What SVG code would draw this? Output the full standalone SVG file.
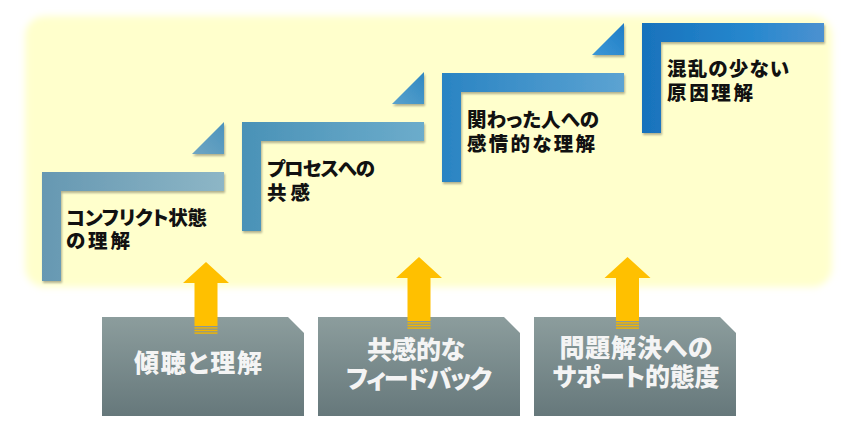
<svg xmlns="http://www.w3.org/2000/svg" width="847" height="433" viewBox="0 0 847 433">
<defs>
<filter id="soft" x="-5%" y="-10%" width="110%" height="120%"><feGaussianBlur stdDeviation="3.5"/></filter>
<filter id="sh" x="-10%" y="-10%" width="130%" height="140%"><feDropShadow dx="1" dy="2" stdDeviation="1.2" flood-color="#000" flood-opacity="0.3"/></filter>
<linearGradient id="g1" x1="0" y1="0" x2="1" y2="0"><stop offset="0" stop-color="#6698B2"/><stop offset="1" stop-color="#8DB6C6"/></linearGradient>
<linearGradient id="g2" x1="0" y1="0" x2="1" y2="0"><stop offset="0" stop-color="#4A92B7"/><stop offset="1" stop-color="#6CACCB"/></linearGradient>
<linearGradient id="g3" x1="0" y1="0" x2="1" y2="0"><stop offset="0" stop-color="#2A84C3"/><stop offset="1" stop-color="#5CA3D2"/></linearGradient>
<linearGradient id="g4" x1="0" y1="0" x2="1" y2="0"><stop offset="0" stop-color="#1872BC"/><stop offset="0.6" stop-color="#2788CE"/><stop offset="1" stop-color="#4C91D0"/></linearGradient>
<linearGradient id="t1" x1="0" y1="1" x2="1" y2="0"><stop offset="0" stop-color="#6FA6C2"/><stop offset="1" stop-color="#4B93BD"/></linearGradient>
<linearGradient id="t2" x1="0" y1="1" x2="1" y2="0"><stop offset="0" stop-color="#5AA2CC"/><stop offset="1" stop-color="#2F88C2"/></linearGradient>
<linearGradient id="t3" x1="0" y1="1" x2="1" y2="0"><stop offset="0" stop-color="#3C98D6"/><stop offset="1" stop-color="#1F7DC6"/></linearGradient>
<linearGradient id="bx" x1="0" y1="0" x2="0" y2="1"><stop offset="0" stop-color="#8C9D9D"/><stop offset="1" stop-color="#66787B"/></linearGradient>
<path id="arrow" d="M0,0 L23,21 L11.5,21 L11.5,64 L-11.5,64 L-11.5,21 L-23,21 Z"/>
</defs>
<style>
.st{font-family:"Noto Sans CJK JP","Noto Sans CJK SC",sans-serif;font-weight:900;font-size:19.5px;fill:#111;font-feature-settings:"palt";}
.bt{font-family:"Noto Sans CJK JP","Noto Sans CJK SC",sans-serif;font-weight:900;font-size:25px;fill:#F4F4F4;text-anchor:middle;font-feature-settings:"palt";}
.arr{fill:#FFC000;}
.str{fill:#F2B500;}
</style>
<rect x="0" y="0" width="847" height="433" fill="#FFFFFF"/>
<g id="panel">
<rect x="25" y="16" width="807" height="271" rx="20" fill="#FFFFCC" filter="url(#soft)"/>
</g>

<g id="step1">
<path d="M42,172 H224 V191 H61 V281 H42 Z" fill="url(#g1)" filter="url(#sh)"/>
<path d="M192,154 H224 V122 Z" fill="url(#t1)" filter="url(#sh)"/>
<text class="st" x="66" y="225" textLength="141">コンフリクト状態</text>
<text class="st" x="66" y="248" textLength="64">の理解</text>
</g>
<g id="step2">
<path d="M242,122 H424 V141 H261 V231 H242 Z" fill="url(#g2)" filter="url(#sh)"/>
<path d="M392,104 H424 V72 Z" fill="url(#t2)" filter="url(#sh)"/>
<text class="st" x="267" y="176" textLength="108">プロセスへの</text>
<text class="st" x="267" y="200" textLength="43">共感</text>
</g>
<g id="step3">
<path d="M442,73 H624 V92 H461 V182 H442 Z" fill="url(#g3)" filter="url(#sh)"/>
<path d="M592,55 H624 V23 Z" fill="url(#t3)" filter="url(#sh)"/>
<text class="st" x="467" y="127" textLength="132">関わった人への</text>
<text class="st" x="467" y="151" textLength="128">感情的な理解</text>
</g>
<g id="step4">
<path d="M642,23 H824 V42 H661 V133 H642 Z" fill="url(#g4)" filter="url(#sh)"/>
<text class="st" x="667" y="76" textLength="122">混乱の少ない</text>
<text class="st" x="667" y="100" textLength="86">原因理解</text>
</g>

<g id="box1">
<path d="M102,317 H288 L304,333 V416 H102 Z" fill="url(#bx)"/>
<text class="bt" x="198" y="372" textLength="128">傾聴と理解</text>
</g>
<g id="box2">
<path d="M318,317 H504 L520,333 V416 H318 Z" fill="url(#bx)"/>
<text class="bt" x="416" y="359" textLength="98">共感的な</text>
<text class="bt" x="419" y="388" textLength="146">フィードバック</text>
</g>
<g id="box3">
<path d="M534,317 H720 L736,333 V416 H534 Z" fill="url(#bx)"/>
<text class="bt" x="636" y="357" textLength="153">問題解決への</text>
<text class="bt" x="636" y="386" textLength="167">サポート的態度</text>
</g>

<g id="connectors">
<g transform="translate(206,262)">
<use href="#arrow" class="arr"/>
<rect x="-11.5" y="65.2" width="23" height="1.4" class="str"/>
<rect x="-11.5" y="67.8" width="23" height="1.4" class="str"/>
<rect x="-11.5" y="70.4" width="23" height="1.4" class="str"/>
</g>
<g transform="translate(419,257)">
<use href="#arrow" class="arr"/>
<rect x="-11.5" y="65.2" width="23" height="1.4" class="str"/>
<rect x="-11.5" y="67.8" width="23" height="1.4" class="str"/>
<rect x="-11.5" y="70.4" width="23" height="1.4" class="str"/>
</g>
<g transform="translate(627.5,257)">
<use href="#arrow" class="arr"/>
<rect x="-11.5" y="65.2" width="23" height="1.4" class="str"/>
<rect x="-11.5" y="67.8" width="23" height="1.4" class="str"/>
<rect x="-11.5" y="70.4" width="23" height="1.4" class="str"/>
</g>
</g>
</svg>
